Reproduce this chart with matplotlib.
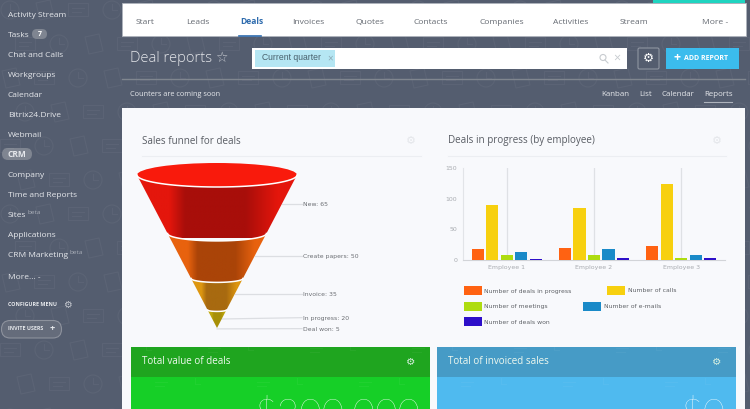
import numpy as np
import matplotlib
matplotlib.use("Agg")
import matplotlib.pyplot as plt
from matplotlib.colors import LinearSegmentedColormap
from matplotlib.patches import Rectangle, Circle, Ellipse, FancyBboxPatch, Polygon

# sidebar and navigation text
menu_items = ["Activity Stream", "Tasks", "Chat and Calls", "Workgroups", "Calendar", "Bitrix24.Drive",
              "Webmail", "CRM", "Company", "Time and Reports", "Sites", "Applications", "CRM Marketing"]
nav_items = ["Start", "Leads", "Deals", "Invoices", "Quotes", "Contacts", "Companies", "Activities", "Stream", "More -"]
view_items = ["Kanban", "List", "Calendar", "Reports"]

# funnel data
funnel_labels = ["New", "Create papers", "Invoice", "In progress", "Deal won"]
funnel_values = [65, 50, 35, 20, 5]

# bar data
employees = ["Employee 1", "Employee 2", "Employee 3"]
series_names = ["Number of deals in progress", "Number of calls", "Number of meetings",
                "Number of e-mails", "Number of deals won"]
deals_in_progress = [17, 20, 22]
calls = [90, 85, 125]
meetings = [7, 8, 2]
emails = [12, 18, 7]
deals_won = [1, 3, 3]
y_ticks = [0, 50, 100, 150]

bar_colors = ["#ff6212", "#f7d00f", "#aedc10", "#1a8ac8", "#2d0fc9"]
stage_colors = [("#e4160c", "#a80e0a"), ("#e8620e", "#aa4408"), ("#dd9610", "#a86a10"), ("#c0a80c", "#a89008")]

W, H = 750, 409
BG = "#545d6f"
PANEL = "#f8f9fc"
plt.rcParams["font.family"] = ["Open Sans", "DejaVu Sans"]


def px_axes(fig, x0, y0, x1, y1):
  return fig.add_axes([x0 / W, (H - y1) / H, (x1 - x0) / W, (y1 - y0) / H])


def draw_pattern(ax):
  # faint doodles behind the sidebar and header
  for i, gx in enumerate(np.arange(10, 760, 34)):
    for j, gy in enumerate(np.arange(10, 420, 34)):
      x = gx + (j % 2) * 15
      y = gy
      kind = (i + j * 2) % 3
      if kind == 0:
        ax.add_patch(Circle((x, y), 9, fill=False, ec="white", alpha=0.045, lw=0.8))
        ax.plot([x, x, x + 5], [y - 6, y, y], color="white", alpha=0.045, lw=0.8)
      elif kind == 1:
        ax.add_patch(Polygon([[x - 8, y - 7], [x + 6, y - 10], [x + 10, y + 7], [x - 4, y + 10]], fill=False,
                             ec="white", alpha=0.045, lw=0.8))
      else:
        ax.add_patch(Rectangle((x - 10, y - 7), 20, 13, fill=False, ec="white", alpha=0.045, lw=0.8))
        ax.plot([x - 6, x + 6], [y - 2, y - 2], color="white", alpha=0.045, lw=0.8)
        ax.plot([x - 6, x + 3], [y + 2, y + 2], color="white", alpha=0.045, lw=0.8)


def draw_sidebar(ax):
  ys = [14, 34, 54, 74, 94, 114, 134, 154, 174, 194, 214, 234, 254]
  ax.add_patch(FancyBboxPatch((2, 148), 30, 12, boxstyle="round,pad=0,rounding_size=6", fc="#7f8591", lw=0))
  for name, y in zip(menu_items, ys):
    ax.text(8, y + 3, name, color="#e6e8ec", fontsize=6.0, va="baseline", weight="bold" if name == "CRM" else "normal")
  ax.add_patch(FancyBboxPatch((32, 29), 15, 10, boxstyle="round,pad=0,rounding_size=5", fc="#7f8591", lw=0))
  ax.text(39.5, 34, "7", color="white", fontsize=5, va="center", ha="center", weight="bold")
  ax.text(28, 212, "beta", color="#a9aeb8", fontsize=4.6, va="center")
  ax.text(69, 252, "beta", color="#a9aeb8", fontsize=4.6, va="center")
  ax.text(8, 279, "More... -", color="#e6e8ec", fontsize=6.0, va="baseline")
  ax.text(8, 304.5, "CONFIGURE MENU", color="#e6e8ec", fontsize=3.9, va="center", weight="bold")
  ax.text(67.5, 304.5, "\u2699", color="#c5c8cf", fontsize=7, va="center", ha="center", family="DejaVu Sans")
  ax.add_patch(FancyBboxPatch((1.5, 320.5), 60, 17.5, boxstyle="round,pad=0,rounding_size=8.7", fc="#656c7b", ec="#8d929d", lw=0.8))
  ax.text(8, 329, "INVITE USERS", color="#e6e8ec", fontsize=3.9, va="center", weight="bold")
  ax.text(52, 329, "+", color="#e6e8ec", fontsize=6.5, va="center", ha="center", weight="bold")


def draw_header(ax):
  ax.add_patch(Rectangle((122, 3), 624, 33, fc="white", ec="#aeb3bc", lw=0.6))
  ax.add_patch(Rectangle((653, 0), 92, 3, fc="#1fd4c0", lw=0))
  nav_x = [136, 186, 240, 292, 355, 413, 479, 553, 620, 702]
  for name, x in zip(nav_items, nav_x):
    active = name == "Deals"
    ax.text(x, 24, name, color="#2f6cae" if active else "#666b73", fontsize=6.1, va="baseline",
            weight="bold" if active else "normal")
  ax.plot([239, 261], [35.5, 35.5], color="#2f6cae", lw=1.2)

  ax.text(130, 58, "Deal reports", color="#e4e6ea", fontsize=10.6, va="center", weight="light")
  ax.text(221.5, 58, "\u2606", color="#c5c8cf", fontsize=10, va="center", ha="center", family="DejaVu Sans")

  ax.add_patch(Rectangle((252, 48), 375, 21, fc="white", lw=0))
  ax.add_patch(Rectangle((255, 50), 80, 17, fc="#b5e6f3", lw=0))
  ax.text(262, 58, "Current quarter", color="#48606c", fontsize=6.2, va="center", family="Liberation Sans")
  ax.text(330, 58.5, "\u00d7", color="#8aa7b2", fontsize=7, va="center", ha="center")
  ax.add_patch(Circle((603, 57.5), 3, fill=False, ec="#c8ccd0", lw=0.8))
  ax.plot([605, 608], [60, 63], color="#c8ccd0", lw=0.8)
  ax.text(617, 58, "\u00d7", color="#c8ccd0", fontsize=9, va="center", ha="center")

  ax.add_patch(FancyBboxPatch((638, 48), 21, 21, boxstyle="round,pad=0,rounding_size=1.5", fc=BG, ec="#8f95a1", lw=0.8))
  ax.text(648.5, 58, "\u2699", color="white", fontsize=9, va="center", ha="center", family="DejaVu Sans")
  ax.add_patch(Rectangle((666, 48), 73, 21, fc="#3bbced", lw=0))
  ax.text(676.5, 58, "+", color="white", fontsize=9, va="center", ha="center", weight="bold")
  ax.text(684, 58.5, "ADD REPORT", color="white", fontsize=5.0, va="center", weight="bold")

  ax.plot([122, 745], [79, 79], color="#80868f", lw=1)
  ax.text(130, 96.5, "Counters are coming soon", color="#e6e8ec", fontsize=5.3, va="baseline")
  view_x = [601, 639, 661, 704]
  for name, x in zip(view_items, view_x):
    ax.text(x, 96.5, name, color="#e6e8ec", fontsize=5.7, va="baseline")
  ax.plot([704, 732], [102, 102], color="#aeb3bc", lw=0.8)


def draw_panel(ax):
  ax.add_patch(Rectangle((122, 108), 623, 301, fc=PANEL, lw=0))
  ax.text(142, 141, "Sales funnel for deals", color="#595d64", fontsize=7.15, va="center")
  ax.text(448, 141, "Deals in progress (by employee)", color="#595d64", fontsize=7.15, va="center")
  ax.plot([142, 421], [156, 156], color="#eceef2", lw=0.8)
  ax.plot([448, 726], [156, 156], color="#eceef2", lw=0.8)
  ax.text(410.5, 141, "\u2699", color="#e4e6ea", fontsize=8, va="center", ha="center", family="DejaVu Sans")
  ax.text(717, 141, "\u2699", color="#e4e6ea", fontsize=8, va="center", ha="center", family="DejaVu Sans")


def draw_cards(ax):
  cards = [(131, "#1fa51f", "#16cf27", "Total value of deals", "$200,000", 421),
           (437, "#469bc6", "#4fbaef", "Total of invoiced sales", "$0", 726)]
  for x, head, body, title, amount, right in cards:
    ax.add_patch(Rectangle((x, 347), 299, 62, fc=body, lw=0))
    ax.add_patch(Rectangle((x, 347), 299, 30, fc=head, lw=0))
    ax.text(x + 11, 362, title, color="#eef8ee", fontsize=7.1, va="center")
    ax.text(x + 279.5, 362, "\u2699", color="#d8f0e0", fontsize=7.5, va="center", ha="center", family="DejaVu Sans")
    ax.text(right, 427, amount, color="white", fontsize=28, ha="right", va="baseline", family="Lato", weight="light")


def stage_shape(d_top, d_bot, scale):
  # outline of one cone slice, front rim arcs in depth units
  t = np.linspace(np.pi, 0, 40)
  w_top = 80 * d_top / 170.0
  w_bot = 80 * d_bot / 170.0
  top = np.column_stack([w_top * np.cos(t), d_top - 0.15 * w_top * np.sin(t) / scale])
  bot = np.column_stack([w_bot * np.cos(t[::-1]), d_bot - 0.15 * w_bot * np.sin(t[::-1]) / scale])
  return np.vstack([top, bot])


def draw_funnel(fig, pixel_ax):
  # axes runs in half-width pixels across and funnel value depth upward
  scale = 0.9
  apex_y = 328.0
  ax = px_axes(fig, 132, 160, 302, 335)
  ax.set_xlim(-85, 85)
  ax.set_ylim(-(335 - apex_y) / scale, (apex_y - 160) / scale)
  ax.axis("off")

  # last stage is only the tip of the cone, depth comes from the other four
  stages = funnel_values[:4]
  depth = np.cumsum(stages[::-1])[::-1]
  bottoms = list(depth[1:]) + [0]

  for i in range(4):
    light, dark = stage_colors[i]
    cmap = LinearSegmentedColormap.from_list("stage", [(0, light), (0.2, light), (0.3, dark), (0.68, dark), (0.88, light), (1, light)])
    w = 80 * depth[i] / 170.0
    img = ax.imshow(np.linspace(0, 1, 256).reshape(1, -1), cmap=cmap, aspect="auto",
                    extent=[-w, w, bottoms[i] - 5, depth[i] + 2], zorder=1)
    shape = stage_shape(depth[i], bottoms[i], scale)
    patch = Polygon(shape, closed=True, transform=ax.transData, fc="none", lw=0)
    ax.add_patch(patch)
    img.set_clip_path(patch)

  ax.set_xlim(-85, 85)
  ax.set_ylim(-(335 - apex_y) / scale, (apex_y - 160) / scale)

  top_w = 80.0
  ax.add_patch(Ellipse((0, depth[0]), 2 * top_w, 2 * 0.15 * top_w / scale, fc="#f91a0c", ec="none", zorder=2))

  # white rim under the top of each slice
  for i in range(4):
    w = 80 * depth[i] / 170.0
    t = np.linspace(np.pi, 0, 40)
    ax.plot(w * np.cos(t), depth[i] - 0.15 * w * np.sin(t) / scale, color="white", lw=1.1, zorder=3)

  # leader lines and labels, the small stages get nudged apart
  for i, (name, value) in enumerate(zip(funnel_labels, funnel_values)):
    if i < 4:
      mid = (depth[i] + bottoms[i]) / 2.0
    else:
      mid = 0.0
    w = 80 * mid / 170.0
    y_label = mid
    if i == 3:
      y_label = mid + 1.5
    if i == 4:
      y_label = -0.7
    ax.plot([w, 85], [mid - 1 if i == 4 else mid, y_label], color="#dcdee2", lw=0.9, zorder=0, clip_on=False)
    ax.text(86, y_label - 2.4, "%s: %d" % (name, value), color="#6b6e73", fontsize=4.45, va="baseline",
            family="DejaVu Sans", clip_on=False)


def draw_bars(fig, pixel_ax):
  ax = px_axes(fig, 463, 168.3, 725, 259.7)
  ax.patch.set_visible(False)
  series = [deals_in_progress, calls, meetings, emails, deals_won]
  x = np.arange(len(employees))
  pitch = 0.166
  for i, values in enumerate(series):
    ax.bar(x + (i - 2) * pitch, values, width=0.14, color=bar_colors[i], zorder=3)
  for pos in x:
    ax.axvline(pos, color="#dfe1e5", lw=0.9, zorder=1)
  ax.set_xlim(-0.5, 2.5)
  ax.set_ylim(0, 150)
  ax.set_yticks(y_ticks)
  ax.set_xticks(x)
  ax.set_xticklabels(employees, family="DejaVu Sans")
  ax.tick_params(axis="both", length=0, labelsize=4.5, labelcolor="#a8abb0", pad=4)
  for lab in ax.get_yticklabels():
    lab.set_family("DejaVu Sans")
  for side in ["top", "right"]:
    ax.spines[side].set_visible(False)
  ax.spines["left"].set_color("#e2e4e8")
  ax.spines["bottom"].set_color("#d2d4d8")
  ax.spines["left"].set_linewidth(0.8)
  ax.spines["bottom"].set_linewidth(0.8)

  legend_pos = [(464, 290.5), (607, 290.5), (464, 306), (583, 306), (464, 321.5)]
  for name, color, (lx, ly) in zip(series_names, bar_colors, legend_pos):
    pixel_ax.add_patch(Rectangle((lx, ly - 4.5), 18, 9, fc=color, lw=0))
    pixel_ax.text(lx + 20.5, ly + 2, name, color="#5f6267", fontsize=4.4, va="baseline", family="DejaVu Sans")


if __name__ == "__main__":
  fig = plt.figure(figsize=(W / 100.0, H / 100.0), dpi=100, facecolor=BG)
  ax = fig.add_axes([0, 0, 1, 1])
  ax.set_xlim(0, W)
  ax.set_ylim(H, 0)
  ax.axis("off")

  draw_pattern(ax)
  draw_sidebar(ax)
  draw_header(ax)
  draw_panel(ax)
  draw_cards(ax)
  draw_funnel(fig, ax)
  draw_bars(fig, ax)

  plt.savefig("out.png", dpi=100)
